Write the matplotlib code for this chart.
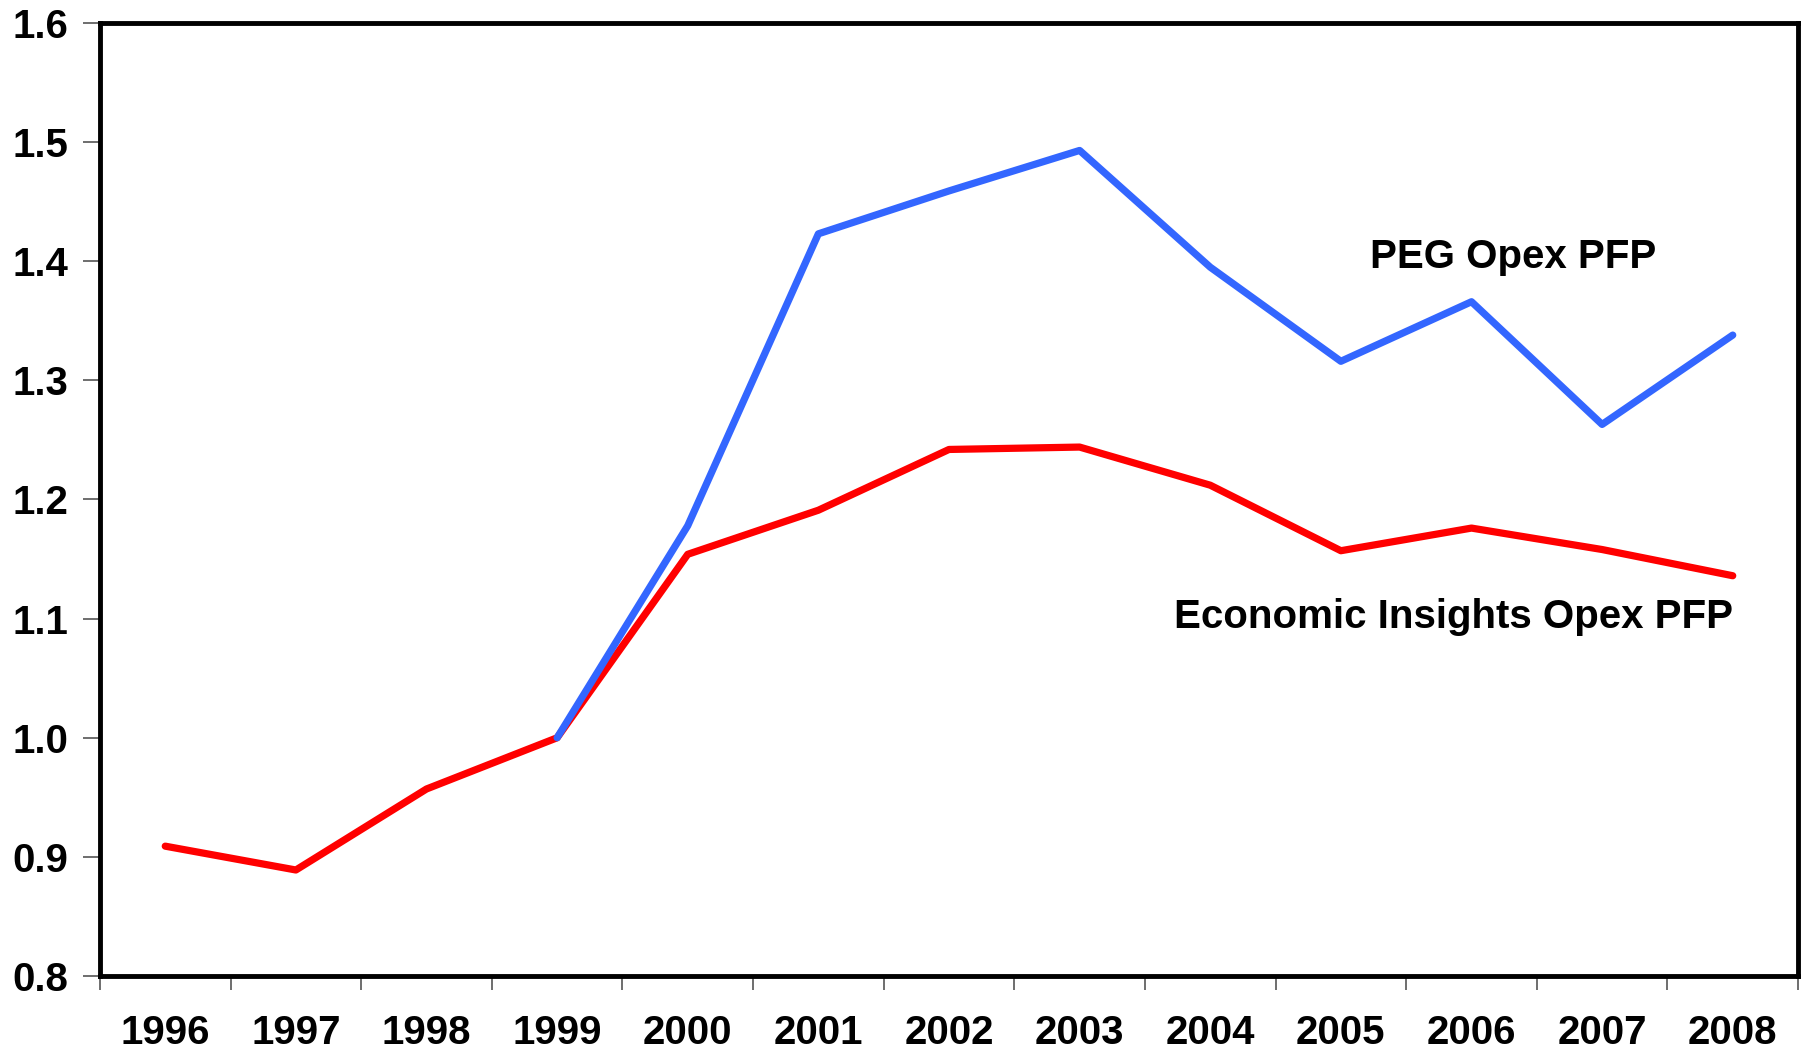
import matplotlib
matplotlib.use("Agg")
import matplotlib.pyplot as plt
import numpy as np

years = ["1996", "1997", "1998", "1999", "2000", "2001", "2002",
         "2003", "2004", "2005", "2006", "2007", "2008"]
ei_opex_pfp = [0.909, 0.889, 0.957, 1.000, 1.154, 1.191, 1.242,
               1.244, 1.212, 1.157, 1.176, 1.158, 1.136]
peg_years = ["1999", "2000", "2001", "2002", "2003", "2004", "2005",
             "2006", "2007", "2008"]
peg_opex_pfp = [1.000, 1.178, 1.423, 1.459, 1.493, 1.395, 1.316,
                1.366, 1.263, 1.338]
y_ticks = [0.8, 0.9, 1.0, 1.1, 1.2, 1.3, 1.4, 1.5, 1.6]

plt.rcParams['font.family'] = ['Liberation Sans', 'DejaVu Sans']
plt.rcParams['font.weight'] = 'bold'

fig = plt.figure(figsize=(18.04, 10.53), dpi=100)
ax = fig.add_axes([0.0554, 0.0731, 0.9413, 0.9051])

xi = {y: i for i, y in enumerate(years)}
ax.plot([xi[y] for y in years], ei_opex_pfp, color='#FF0000', lw=5.2,
        solid_joinstyle='round', solid_capstyle='round', zorder=3)
ax.plot([xi[y] for y in peg_years], peg_opex_pfp, color='#3366FF', lw=5.2,
        solid_joinstyle='round', solid_capstyle='round', zorder=3)

ax.set_xlim(-0.5, len(years) - 0.5)
ax.set_ylim(0.8, 1.6)
ax.set_yticks(y_ticks)
ax.set_yticklabels([f"{v:.1f}" for v in y_ticks], fontsize=29, fontweight='bold')
ax.set_xticks(range(len(years)))
ax.set_xticklabels(years, fontsize=29, fontweight='bold')
ax.set_xticks(np.arange(-0.5, len(years), 1.0), minor=True)
ax.tick_params(axis='x', which='major', length=0, pad=27)
ax.tick_params(axis='x', which='minor', length=10, width=1.2, color='#555555')
ax.tick_params(axis='y', which='major', length=12, width=1.2, color='#555555', pad=11)

for s in ax.spines.values():
    s.set_linewidth(3.5)
    s.set_color('black')

ax.text(xi["2006"] + 0.32, 1.394, "PEG Opex PFP", fontsize=29, fontweight='bold',
        ha='center', va='baseline')
ax.text(xi["2008"], 1.092, "Economic Insights Opex PFP", fontsize=29,
        fontweight='bold', ha='right', va='baseline')

fig.savefig("out.png", dpi=100, facecolor='white')
